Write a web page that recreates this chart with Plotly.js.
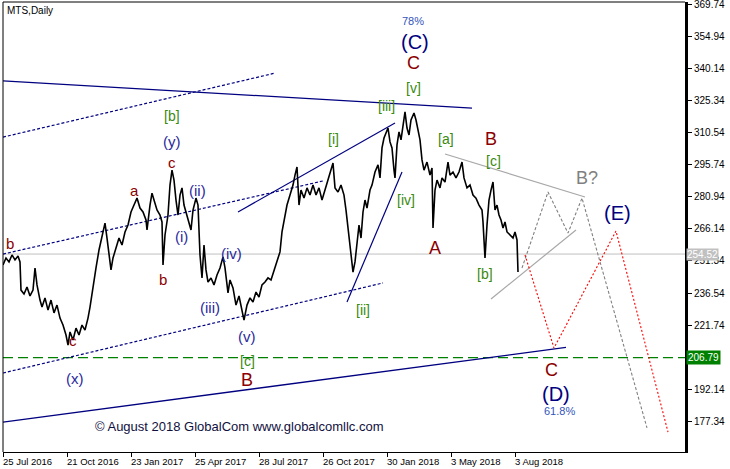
<!DOCTYPE html>
<html>
<head>
<meta charset="utf-8">
<script src="https://cdn.plot.ly/plotly-3.0.1.min.js"></script>
<style>
html,body{margin:0;padding:0;background:#fff;}
#chart{width:730px;height:469px;}
</style>
</head>
<body>
<div id="chart"></div>
<script>
// ---- Data (bar index from 25 Jul 2016, price in RUB) ----
const tickIdx = [0, 64, 128, 192, 256, 320, 384, 448, 512];
const tickDates = ["25 Jul 2016", "21 Oct 2016", "23 Jan 2017", "25 Apr 2017", "28 Jul 2017", "26 Oct 2017", "30 Jan 2018", "3 May 2018", "3 Aug 2018"];
const yTicks = [369.74, 354.94, 340.14, 325.34, 310.54, 295.74, 280.94, 266.14, 251.34, 236.54, 221.74, 192.14, 177.34];

const priceIdx = [
  0,3,6,9,12,15,17,18,21,24,
  27,30,32,34,37,39,42,45,48,51,
  54,57,60,63,65,67,70,73,76,79,
  82,85,87,90,93,96,99,102,104,106,
  108,110,113,116,119,122,125,128,131,134,
  137,140,143,144,147,149,151,154,157,159,
  160,162,165,167,169,171,173,175,177,179,
  181,184,186,188,190,193,195,197,199,201,
  203,205,208,211,214,217,220,222,225,227,
  230,233,236,239,241,244,247,250,253,256,
  259,262,265,268,271,274,277,279,281,284,
  287,290,292,294,296,298,301,304,307,310,
  313,316,319,322,325,328,330,332,335,338,
  341,343,345,347,349,350,352,354,356,358,
  360,362,364,367,369,372,375,377,379,381,
  383,385,387,389,391,392,394,396,398,400,
  402,404,406,408,411,413,415,417,419,421,
  424,427,429,430,432,434,437,439,442,445,
  447,450,453,456,459,461,464,467,470,473,
  476,479,480,482,484,486,488,490,492,494,
  496,498,500,502,504,507,510,512,514,515
];
const priceVal = [
  249.5,252.7,250.9,254.1,251.8,253.6,250.9,237.9,236.1,239.3,
  235.2,237.9,248.1,240.3,233.3,230.1,234.3,228.7,233.3,227.4,
  231.0,225.0,221.8,217.2,212.6,218.6,214.9,220.4,217.2,221.8,
  219.5,225.0,230.1,240.3,248.1,256.4,263.3,268.8,261.9,254.1,
  247.2,252.7,257.3,261.9,258.7,264.7,267.9,273.9,277.1,280.3,
  275.7,273.9,270.2,265.6,277.1,282.6,279.4,274.8,272.5,269.3,
  249.5,263.3,272.5,286.3,293.2,288.6,279.4,272.5,281.7,285.0,
  277.1,272.5,269.3,265.6,274.8,280.3,277.1,254.1,243.5,258.7,
  247.2,241.6,243.5,240.3,244.9,248.1,253.2,248.1,236.6,242.6,
  238.9,231.0,235.2,227.8,224.1,231.0,234.3,232.4,237.0,234.7,
  240.3,241.6,243.5,242.6,247.2,251.8,255.5,264.7,270.2,277.1,
  281.7,286.3,290.9,294.6,277.1,284.0,280.3,285.0,281.7,286.3,
  281.7,285.0,279.4,284.0,287.7,292.3,296.5,285.0,283.1,286.3,
  281.7,274.8,266.5,258.7,250.9,246.2,250.9,260.1,267.9,261.9,
  273.9,279.4,275.7,284.0,286.3,292.3,295.6,289.6,303.4,308.0,
  310.8,312.6,306.2,303.4,293.2,289.6,304.8,310.8,307.1,314.0,
  320.0,312.6,309.4,316.3,319.5,316.3,311.7,307.1,297.9,293.2,
  296.9,290.9,294.2,266.5,284.0,288.6,285.0,289.6,287.7,296.9,
  290.9,292.3,289.6,292.3,296.9,289.6,285.0,286.3,281.7,280.3,
  277.1,274.8,269.3,252.7,267.9,279.4,284.0,287.7,274.8,277.1,
  272.5,270.2,266.5,269.3,264.7,263.3,261.9,264.7,261.0,246.2
];

// trend / channel lines
const resistIdx = [0, 469],   resistVal = [334.3, 321.8];
const chanUpIdx = [0, 272],   chanUpVal = [308.4, 337.9];
const chanMidIdx = [0, 320],  chanMidVal = [254.5, 288.2];
const chanLowIdx = [0, 380],  chanLowVal = [199.7, 241.2];
const supportIdx = [0, 563],  supportVal = [177.1, 211.5];
const waveIIdx = [235, 392],  waveIVal = [273.9, 314.9];
const waveIIIdx = [344, 399], waveIIVal = [232.4, 292.3];
const grayUpIdx = [442, 582], grayUpVal = [300.6, 280.8];
const grayLowIdx = [488, 573], grayLowVal = [233.8, 265.6];
// projected paths
const grayPathIdx = [519, 545, 565, 579, 644];
const grayPathVal = [248.1, 283.1, 264.2, 280.3, 174.4];
const redPathIdx = [522, 551, 613, 665];
const redPathVal = [254.1, 211.2, 265.1, 172.5];

const supportLevel = 206.79;
const bidLevel = 254.52;

// wave labels: text, bar index, price, style
const lblText = ["78%","(C)","C","[v]","[iii]","[i]","[iv]","[ii]","[a]","B","[c]","B?","(E)","A","[b]","C","(D)","61.8%",
                 "[b]","(y)","c","a","(ii)","(i)","b","b","(iv)","(iii)","(v)","[c]","B","c","(x)"];
const lblIdx  = [410,412,410,410,383,330,403,360,443,488,490,584,614,432,482,548,553,556,
                 169,169,169,131,194,178,160,7,228,207,244,244,244,70,72];
const lblVal  = [361.9,352.2,342.5,331.0,322.7,307.5,279.4,228.7,307.5,307.5,297.4,289.6,273.4,257.3,245.3,201.1,190.0,182.2,
                 318.1,306.2,296.9,284.0,284.0,262.8,243.0,259.6,255.0,230.1,216.3,205.2,196.5,214.9,197.4];
const lblKind = ["pct","big","red","grn","grn","grn","grn","grn","grn","red","grn","gray","big","red","grn","red","big","pct",
                 "grn","blu","sred","sred","blu","blu","sred","sred","blu","blu","blu","grn","red","sred","blu"];

const kindStyle = {
  pct:  {color:"#3355bb", size:11},
  big:  {color:"#000080", size:20},
  red:  {color:"#8b0000", size:18},
  sred: {color:"#8b0000", size:15},
  grn:  {color:"#3a8a10", size:14},
  blu:  {color:"#2a2a9c", size:15},
  gray: {color:"#808080", size:18}
};

const F = "Liberation Sans, Arial, sans-serif";

function line(x, y, color, width, dash) {
  return {x:x, y:y, type:"scatter", mode:"lines", hoverinfo:"skip", showlegend:false,
          line:{color:color, width:width, dash:dash||"solid"}};
}

const traces = [
  line(resistIdx, resistVal, "#000080", 1.3),
  line(chanUpIdx, chanUpVal, "#000080", 1.2, "3px,2px"),
  line(chanMidIdx, chanMidVal, "#000080", 1.2, "3px,2px"),
  line(chanLowIdx, chanLowVal, "#000080", 1.2, "3px,2px"),
  line(supportIdx, supportVal, "#000080", 1.3),
  line(waveIIdx, waveIVal, "#000080", 1.2),
  line(waveIIIdx, waveIIVal, "#000080", 1.2),
  line(grayUpIdx, grayUpVal, "#a8a8a8", 1.2),
  line(grayLowIdx, grayLowVal, "#a8a8a8", 1.2),
  line(grayPathIdx, grayPathVal, "#808080", 1.1, "3px,2px"),
  line(redPathIdx, redPathVal, "#ff0000", 1.1, "2px,2px"),
  line(priceIdx, priceVal, "#000000", 1.6)
];

const annotations = [];
for (let i = 0; i < lblText.length; i++) {
  const s = kindStyle[lblKind[i]];
  annotations.push({x:lblIdx[i], y:lblVal[i], xref:"x", yref:"y", text:lblText[i], showarrow:false,
    xanchor:"center", yanchor:"middle", font:{family:F, size:s.size, color:s.color}});
}
for (let i = 0; i < tickIdx.length; i++) {
  annotations.push({x:tickIdx[i], y:0, xref:"x", yref:"paper", text:tickDates[i], showarrow:false,
    xanchor:"left", yanchor:"top", xshift:-2, yshift:-2, font:{family:F, size:9.5, color:"#000"}});
}
annotations.push({x:0.003, y:0.982, xref:"paper", yref:"paper", text:"MTS,Daily", showarrow:false,
  xanchor:"left", yanchor:"middle", font:{family:F, size:10, color:"#000"}});
annotations.push({x:0.3475, y:0.0556, xref:"paper", yref:"paper", text:"© August 2018 GlobalCom www.globalcomllc.com",
  showarrow:false, xanchor:"center", yanchor:"middle", font:{family:F, size:13, color:"#101040"}});
annotations.push({x:1, y:bidLevel, xref:"paper", yref:"y", text:bidLevel.toFixed(2), showarrow:false,
  xanchor:"left", yanchor:"middle", xshift:1, bgcolor:"#c0c0c0", borderpad:0, font:{family:F, size:10, color:"#fff"}});
annotations.push({x:1, y:supportLevel, xref:"paper", yref:"y", text:supportLevel.toFixed(2), showarrow:false,
  xanchor:"left", yanchor:"middle", xshift:1, bgcolor:"#008000", borderpad:1, font:{family:F, size:10, color:"#fff"}});

const shapes = [
  {type:"line", xref:"paper", yref:"y", x0:0, x1:1, y0:bidLevel, y1:bidLevel, line:{color:"#c0c0c0", width:1}, layer:"below"},
  {type:"line", xref:"paper", yref:"y", x0:0, x1:1, y0:supportLevel, y1:supportLevel, line:{color:"#008000", width:1.3, dash:"10px,5px"}, layer:"below"},
  {type:"line", xref:"paper", yref:"paper", x0:0, x1:0, y0:0, y1:1, line:{color:"#000", width:1}},
  {type:"line", xref:"paper", yref:"paper", x0:0, x1:1, y0:1, y1:1, line:{color:"#000", width:1}}
];

const layout = {
  width:730, height:469,
  margin:{l:3, r:45, t:2, b:17},
  paper_bgcolor:"#fff", plot_bgcolor:"#fff",
  showlegend:false,
  xaxis:{range:[0,682], tickvals:tickIdx, showticklabels:false, ticks:"outside", ticklen:4, tickcolor:"#000",
         showgrid:false, zeroline:false, showline:true, linecolor:"#000", linewidth:1, fixedrange:true},
  yaxis:{range:[163.3,370.66], side:"right", tickvals:yTicks, ticktext:yTicks.map(v=>v.toFixed(2)),
         ticks:"outside", ticklen:4, tickcolor:"#000", tickfont:{family:F, size:10, color:"#000"},
         ticklabeloverflow:"allow",
         showgrid:false, zeroline:false, showline:true, linecolor:"#000", linewidth:3, fixedrange:true},
  annotations:annotations,
  shapes:shapes
};

Plotly.newPlot("chart", traces, layout, {staticPlot:true, displayModeBar:false});
</script>
</body>
</html>
